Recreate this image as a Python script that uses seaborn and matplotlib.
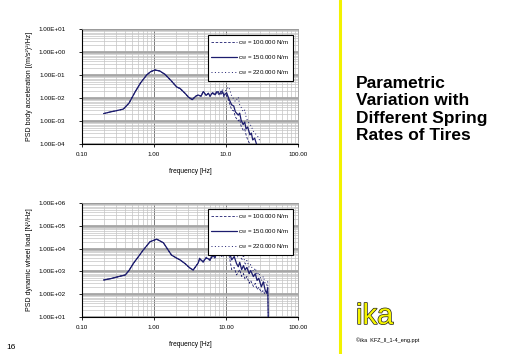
import matplotlib
matplotlib.use("Agg")
import matplotlib.pyplot as plt
import matplotlib.patheffects as pe
from matplotlib.ticker import LogLocator, NullFormatter, FixedLocator, FixedFormatter
import numpy as np
import pandas as pd
import seaborn as sns

#%% Data
series_labels = ["c$_W$ = 100.000 N/m", "c$_W$ = 150.000 N/m", "c$_W$ = 220.000 N/m"]

# body acceleration PSD [(m/s^2)^2/Hz]
freq_body = [0.2, 0.25, 0.3, 0.375, 0.45, 0.55, 0.65, 0.79, 0.9, 1.03, 1.2, 1.42, 1.7, 2.07,
             2.3, 2.7, 3.0, 3.4, 3.8, 4.1, 4.5, 4.84, 5.3, 5.7, 6.0, 6.5, 7.0, 7.5, 8.2, 8.8,
             9.4, 10.2, 11.0, 12.0, 12.8, 13.5, 14.8, 15.5, 16.2, 17.3, 18.2, 19.0, 20.0,
             21.5, 22.5, 23.5, 25.0, 26.5, 28.0, 30.0]
body_150 = [2.1e-3, 2.5e-3, 2.8e-3, 3.3e-3, 6e-3, 0.019, 0.045, 0.1, 0.14, 0.165, 0.15, 0.107,
            0.06, 0.03, 0.026, 0.016, 0.011, 0.0085, 0.012, 0.0135, 0.012, 0.019, 0.013, 0.016,
            0.012, 0.017, 0.014, 0.019, 0.015, 0.02, 0.013, 0.017, 0.009, 0.005, 0.0045, 0.0025,
            0.0018, 0.0022, 0.0011, 7e-4, 9e-4, 4.5e-4, 5.5e-4, 2.5e-4, 3e-4, 1.5e-4, 1.8e-4,
            1e-4, np.nan, np.nan]
body_100 = [2.1e-3, 2.5e-3, 2.8e-3, 3.3e-3, 6e-3, 0.019, 0.045, 0.1, 0.14, 0.165, 0.15, 0.107,
            0.06, 0.03, 0.026, 0.016, 0.011, 0.0085, 0.012, 0.0135, 0.012, 0.019, 0.013, 0.016,
            0.012, 0.016, 0.013, 0.017, 0.013, 0.016, 0.011, 0.013, 0.007, 0.003, 0.0028, 0.0015,
            0.001, 0.0012, 6e-4, 4e-4, 4.5e-4, 2.5e-4, 1.5e-4, 1e-4, np.nan, np.nan, np.nan,
            np.nan, np.nan, np.nan]
body_220 = [2.1e-3, 2.5e-3, 2.8e-3, 3.3e-3, 6e-3, 0.019, 0.045, 0.1, 0.14, 0.165, 0.15, 0.107,
            0.06, 0.03, 0.026, 0.016, 0.011, 0.0085, 0.012, 0.0135, 0.012, 0.019, 0.013, 0.016,
            0.012, 0.018, 0.015, 0.021, 0.017, 0.024, 0.016, 0.025, 0.03, 0.012, 0.009, 0.007,
            0.011, 0.005, 0.004, 0.0025, 0.003, 0.0015, 0.001, 7e-4, 6e-4, 4e-4, 3e-4, 2.5e-4,
            2e-4, 1.2e-4]

# dynamic wheel load PSD [N^2/Hz]
freq_wheel = [0.2, 0.25, 0.3, 0.4, 0.45, 0.52, 0.6, 0.71, 0.88, 1.09, 1.35, 1.75, 2.07, 2.3,
              2.7, 3.16, 3.5, 4.1, 4.3, 4.8, 5.3, 6.0, 6.5, 7.0, 7.5, 8.2, 9.0, 9.8, 10.7, 11.5,
              12.0, 13.0, 14.0, 14.8, 15.5, 16.5, 17.5, 18.4, 19.5, 21.0, 22.0, 24.0, 25.5,
              27.0, 28.5, 31.0, 33.0, 35.0, 36.6, 38.0, 38.6]
wheel_150 = [420, 480, 560, 700, 1100, 2300, 4200, 8700, 2.0e4, 2.6e4, 1.8e4, 5200, 3800, 3200,
             2200, 1400, 1150, 2300, 3700, 2600, 4000, 3200, 5000, 4200, 6000, 6200, 5000, 9000,
             1.2e4, 5000, 3200, 4500, 2200, 1600, 2500, 1200, 1800, 1150, 1500, 800, 1100, 590,
             800, 400, 500, 210, 350, 150, 110, 200, 10]
wheel_100 = [420, 480, 560, 700, 1100, 2300, 4200, 8700, 2.0e4, 2.6e4, 1.8e4, 5200, 3800, 3200,
             2200, 1400, 1150, 2300, 3600, 2500, 3800, 3000, 4600, 3800, 5200, 5400, 4200, 7000,
             8000, 2500, 1200, 1500, 700, 900, 1200, 600, 800, 450, 600, 300, 400, 220, 300,
             160, 200, 120, 150, 90, np.nan, np.nan, np.nan]
wheel_220 = [420, 480, 560, 700, 1100, 2300, 4200, 8700, 2.0e4, 2.6e4, 1.8e4, 5200, 3800, 3200,
             2200, 1400, 1150, 2300, 3800, 2700, 4200, 3400, 5500, 4800, 7000, 8000, 7500,
             1.5e4, 2.0e4, 1.0e4, 6000, 1.2e4, 5000, 4000, 1.2e4, 3000, 5500, 1900, 3000, 1500,
             2000, 1000, 1400, 700, 900, 400, 600, 300, 250, 350, 10]

x_ticks = [0.1, 1, 10, 100]
x_labels_body = ["0.10", "1.00", "10.0", "100.00"]
x_labels_wheel = ["0.10", "1.00", "10.00", "100.00"]
y_ticks_body = [1e-4, 1e-3, 1e-2, 1e-1, 1e0, 1e1]
y_ticks_wheel = [1e1, 1e2, 1e3, 1e4, 1e5, 1e6]

#%% Figure setup
sns.set_style("white")
plt.rcParams['font.family'] = ['Liberation Sans', 'DejaVu Sans']
plt.rcParams['mathtext.default'] = 'regular'
for key in ['text.color', 'axes.labelcolor', 'xtick.color', 'ytick.color']:
    plt.rcParams[key] = 'black'

fig = plt.figure(figsize=(5.12, 3.54), dpi=100)
ax1 = fig.add_axes([82/512, 1-144/354, 216/512, 115/354])
ax2 = fig.add_axes([82/512, 1-317/354, 216/512, 114/354])

navy = "#1c1c6e"
styles = [dict(linestyle=(0, (3, 2)), linewidth=0.6),
          dict(linestyle='-', linewidth=0.9),
          dict(linestyle=(0, (1, 2.5)), linewidth=0.7)]


def style_axes(ax, y_ticks, x_labels, ylabel):
    ax.set_xscale('log')
    ax.set_yscale('log')
    ax.set_xlim(0.1, 100)
    ax.set_ylim(y_ticks[0], y_ticks[-1])
    ax.xaxis.set_major_locator(FixedLocator(x_ticks))
    ax.xaxis.set_major_formatter(FixedFormatter(x_labels))
    ax.yaxis.set_major_locator(FixedLocator(y_ticks))
    ax.yaxis.set_major_formatter(FixedFormatter([f"{v:.2E}" for v in y_ticks]))
    ax.xaxis.set_minor_locator(LogLocator(base=10, subs=np.arange(2, 10)))
    ax.yaxis.set_minor_locator(LogLocator(base=10, subs=np.arange(2, 10)))
    ax.xaxis.set_minor_formatter(NullFormatter())
    ax.yaxis.set_minor_formatter(NullFormatter())
    ax.grid(which='minor', color='#c4c4c4', linewidth=0.5)
    ax.grid(which='major', axis='y', color='#a6a6a6', linewidth=2.0)
    ax.grid(which='major', axis='x', color='#7a7a7a', linewidth=0.7)
    ax.set_axisbelow(True)
    ax.tick_params(which='major', direction='out', length=2, width=0.6,
                   labelsize=4.5, pad=4, left=True, bottom=True)
    ax.tick_params(which='minor', length=0)
    ax.tick_params(axis='y', pad=10)
    for side in ['left', 'bottom']:
        ax.spines[side].set_color('black')
        ax.spines[side].set_linewidth(0.8)
    for side in ['top', 'right']:
        ax.spines[side].set_color('#9a9a9a')
        ax.spines[side].set_linewidth(0.6)
    ax.set_xlabel("frequency [Hz]", fontsize=4.8, labelpad=8)
    ax.set_ylabel(ylabel, fontsize=5, labelpad=4)
    leg = ax.legend(loc='upper right', bbox_to_anchor=(0.99, 0.975), fontsize=4.4,
                    frameon=True, fancybox=False, handlelength=4.2, labelspacing=0.95,
                    borderpad=0.6, handletextpad=0.2, markerfirst=True)
    leg.get_frame().set_edgecolor('black')
    leg.get_frame().set_linewidth(0.8)
    leg.get_frame().set_alpha(1)


for vals, lab, st in zip([body_100, body_150, body_220], series_labels, styles):
    df = pd.DataFrame({'f': freq_body, 'psd': vals}).dropna()
    sns.lineplot(data=df, x='f', y='psd', ax=ax1, color=navy, label=lab, **st)

for vals, lab, st in zip([wheel_100, wheel_150, wheel_220], series_labels, styles):
    df = pd.DataFrame({'f': freq_wheel, 'psd': vals}).dropna()
    sns.lineplot(data=df, x='f', y='psd', ax=ax2, color=navy, label=lab, **st)

style_axes(ax1, y_ticks_body, x_labels_body, "PSD body acceleration [(m/s²)²/Hz]")
style_axes(ax2, y_ticks_wheel, x_labels_wheel, "PSD dynamic wheel load [N²/Hz]")

#%% Slide decoration
fig.add_artist(plt.Line2D([340/512, 340/512], [0, 1], color='#f2f200', linewidth=2.2))
fig.text(356/512, 1-76/354, "Parametric\nVariation with\nDifferent Spring\nRates of Tires",
         fontsize=12.5, fontweight='bold', va='top', ha='left', linespacing=1.2, color='black')
fig.text(356/512, 1-324/354, "ika", fontsize=21, color='#f5f500', va='baseline', ha='left',
         path_effects=[pe.withStroke(linewidth=1.0, foreground='#222222')])
fig.text(356/512, 1-342/354, "©ika  KFZ_II_1-4_eng.ppt", fontsize=4, va='baseline', ha='left')
fig.text(6/512, 1-349/354, "16", fontsize=6, va='baseline', ha='left')

fig.savefig("out.png", dpi=100)
